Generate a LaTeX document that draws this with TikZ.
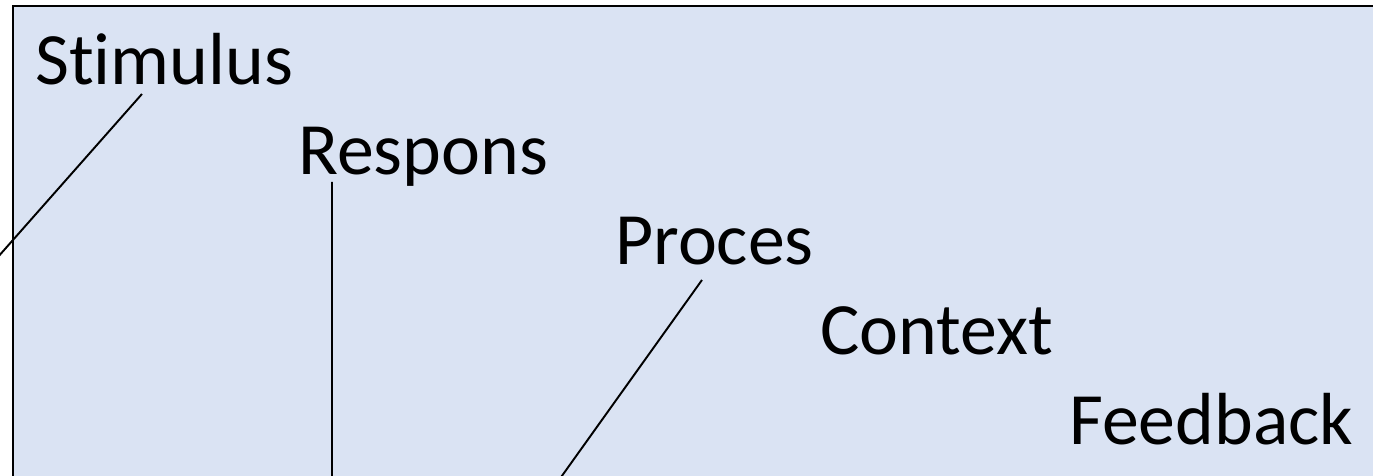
\documentclass[tikz,border=0pt]{standalone}
\usepackage{fontspec}
\setmainfont{Carlito}[Ligatures=NoCommon]
\definecolor{panelblue}{HTML}{DAE3F3}
\tikzset{
  label/.style={anchor=base west, inner sep=0pt, font=\fontsize{42}{48}\selectfont},
  leader/.style={line width=1.1pt}
}
\begin{document}
\begin{tikzpicture}[x=0.02cm,y=-0.02cm]
                \useasboundingbox (0,0) rectangle (1373,476);
                \clip (0,0) rectangle (1373,476);
                \fill[panelblue] (13,6) rectangle (1400,500);
                \draw[line width=1.1pt] (1400,6) -- (13,6) -- (13,500);

                \node[label] (stim) at (35,85)   {Stimulus};
                \node[label] (resp) at (298,175) {Respons};
                \node[label] (proc) at (615,265) {Proces};
                \node[label] (cont) at (820,355) {Context};
                \node[label] (feed) at (1069,444) {Feedback};

                \coordinate (stimfoot) at (-10,266);
                \coordinate (respfoot) at (332,480);
                \coordinate (procfoot) at (559,480);

                \draw[leader] ([xshift=2.14cm,yshift=-0.18cm]stim.base west) -- (stimfoot);
                \draw[leader] ([xshift=0.68cm,yshift=-0.14cm]resp.base west) -- (respfoot);
                \draw[leader] ([xshift=1.74cm,yshift=-0.3cm]proc.base west) -- (procfoot);
\end{tikzpicture}
\end{document}
